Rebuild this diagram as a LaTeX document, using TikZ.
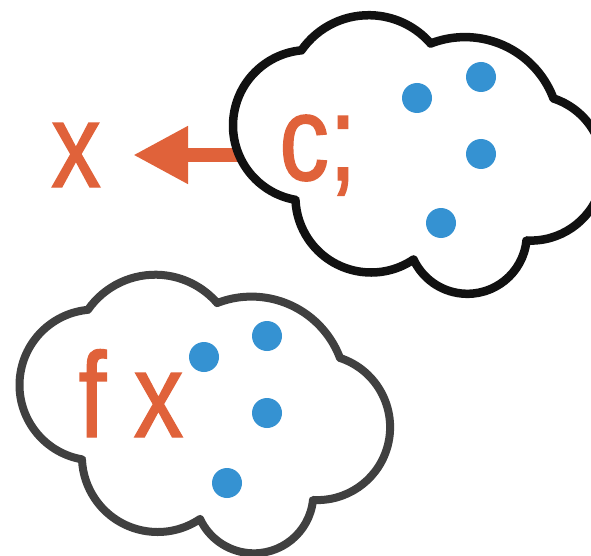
\documentclass[tikz,border=0pt]{standalone}
\usepackage{fontspec}
\newfontfamily\labfont[FakeStretch=0.82, FakeBold=1.2]{Liberation Sans}
\usetikzlibrary{arrows.meta}
\definecolor{orng}{HTML}{E0623A}
\definecolor{dotblue}{HTML}{3592D2}
\definecolor{cloudA}{HTML}{111111}
\definecolor{cloudB}{HTML}{404040}
\tikzset{
  lobecloud/.pic={
    \path[pic actions, line join=round, fill=white]
      ([shift={(145.2:82)}]155.2,-356.7) arc[start angle=145.2, end angle=41.0, radius=82]
      -- ([shift={(111.3:94.6)}]251.4,-391.2) arc[start angle=111.3, end angle=20.5, radius=94.6]
      -- ([shift={(71.8:72.9)}]317.2,-427.2) arc[start angle=71.8, end angle=-93.3, radius=72.9]
      -- ([shift={(-5.9:59.4)}]253.9,-493.9) arc[start angle=-5.9, end angle=-155, radius=59.4]
      -- ([shift={(-55.9:75.7)}]157.6,-456.3) arc[start angle=-55.9, end angle=-177.2, radius=75.7]
      -- ([shift={(260.2:75.5)}]95,-385) arc[start angle=260.2, end angle=95.3, radius=75.5]
      -- cycle;
  },
  topcloud/.style={draw=cloudA, line width=8.5pt},
  botcloud/.style={draw=cloudB, line width=8pt},
  dot/.style={circle, fill=dotblue, minimum size=30pt, inner sep=0pt},
  lab/.style={text=orng, inner sep=0pt, font=\labfont\fontsize{121}{121}\selectfont},
  bigarrow/.style={draw=orng, line width=14pt, -{Triangle[length=55pt, width=54pt]}}
}
\begin{document}
\begin{tikzpicture}[x=1pt, y=1pt]
\useasboundingbox (0,0) rectangle (591,-556);
\clip (0,0) rectangle (591,-556);
\fill[white] (0,0) rectangle (591,-556);
% arrow (drawn first so the cloud outline covers its end)
\node[lab, anchor=base] (xlab) at (76,-187) {x};
\coordinate (arrS) at (240,-155);
\draw[bigarrow, shorten >=32pt] (arrS) -- (xlab.east |- arrS);
% top cloud
\pic[topcloud] at (213.5,259.5) {lobecloud};
\node[lab, anchor=base] (clab) at (318,-180) {c;};
\node[dot] (t1) at (417,-98) {};
\node[dot] (t2) at (481,-77) {};
\node[dot] (t3) at (481,-154) {};
\node[dot] (t4) at (441,-223) {};
% bottom cloud
\pic[botcloud] at (0,0) {lobecloud};
\node[lab, anchor=base] (fxlab) at (131,-437) {f x};
\node[dot] (b1) at (204,-357) {};
\node[dot] (b2) at (267,-336) {};
\node[dot] (b3) at (267,-413) {};
\node[dot] (b4) at (227,-483) {};
\end{tikzpicture}
\end{document}
